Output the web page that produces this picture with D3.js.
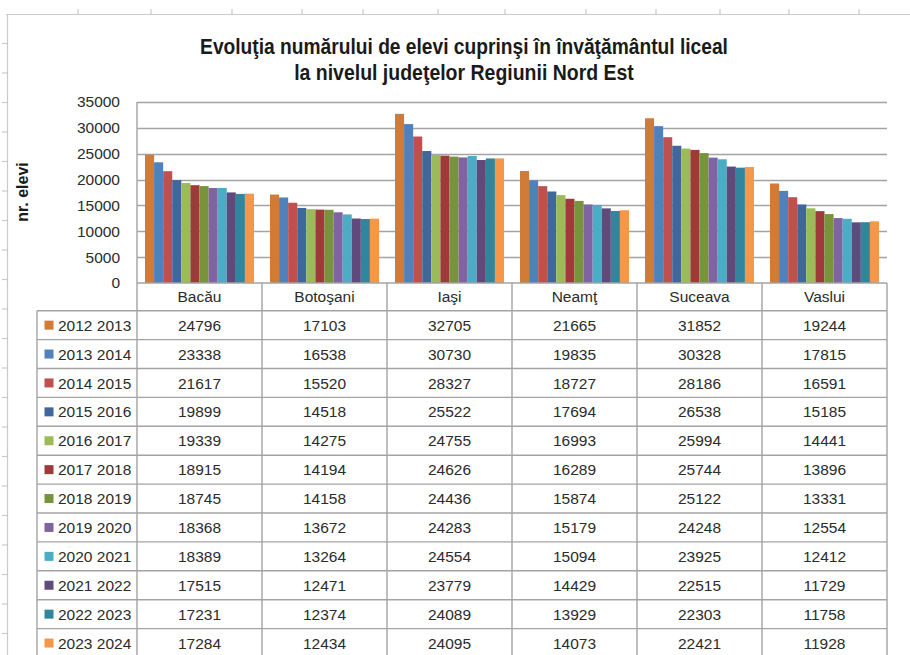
<!DOCTYPE html>
<html>
<head>
<meta charset="utf-8">
<script src="https://cdn.jsdelivr.net/npm/d3@7"></script>
<style>
  html, body { margin: 0; padding: 0; background: #fff; }
  svg { display: block; }
</style>
</head>
<body>
<svg id="chart" width="910" height="655"></svg>
<script>
// ---- data ----
const titleLines = ["Evoluţia numărului de elevi cuprinşi în învăţământul liceal",
                    "la nivelul judeţelor Regiunii Nord Est"];
const yAxisTitle = "nr. elevi";
const categories = ["Bacău", "Botoşani", "Iaşi", "Neamţ", "Suceava", "Vaslui"];
const seriesNames = ["2012 2013", "2013 2014", "2014 2015", "2015 2016", "2016 2017", "2017 2018",
                     "2018 2019", "2019 2020", "2020 2021", "2021 2022", "2022 2023", "2023 2024"];
const values2012 = [24796, 17103, 32705, 21665, 31852, 19244];
const values2013 = [23338, 16538, 30730, 19835, 30328, 17815];
const values2014 = [21617, 15520, 28327, 18727, 28186, 16591];
const values2015 = [19899, 14518, 25522, 17694, 26538, 15185];
const values2016 = [19339, 14275, 24755, 16993, 25994, 14441];
const values2017 = [18915, 14194, 24626, 16289, 25744, 13896];
const values2018 = [18745, 14158, 24436, 15874, 25122, 13331];
const values2019 = [18368, 13672, 24283, 15179, 24248, 12554];
const values2020 = [18389, 13264, 24554, 15094, 23925, 12412];
const values2021 = [17515, 12471, 23779, 14429, 22515, 11729];
const values2022 = [17231, 12374, 24089, 13929, 22303, 11758];
const values2023 = [17284, 12434, 24095, 14073, 22421, 11928];
const yTicks = [0, 5000, 10000, 15000, 20000, 25000, 30000, 35000];
const colors = ["#D07B37", "#4F81BD", "#C0504D", "#3F679B", "#9BBB59", "#9E3B3A",
                "#77933C", "#8064A2", "#4BACC6", "#604A7B", "#31859C", "#F79646"];

const seriesValues = [values2012, values2013, values2014, values2015, values2016, values2017,
                      values2018, values2019, values2020, values2021, values2022, values2023];

// ---- layout ----
const svg = d3.select("#chart");
const plotLeft = 137, plotRight = 887, plotTop = 102, plotBottom = 283;
const tableLeft = 37;
const headerBottom = 310.7, rowH = 28.9;
const gridColor = "#a3a3a3";
const textColor = "#2b2b2b";
const font = "'Liberation Sans', Arial, sans-serif";

const y = d3.scaleLinear().domain([0, 35000]).range([plotBottom, plotTop]);
const x0 = d3.scaleBand().domain(categories).range([plotLeft, plotRight]);
const x1 = d3.scaleBand().domain(seriesNames).range([0, x0.bandwidth()]).paddingInner(0).paddingOuter(0.88);

// sheet ruler decoration
const ruler = svg.append("g").attr("stroke", "#c9c9c9").attr("stroke-width", 1.2);
ruler.append("line").attr("x1", 6).attr("x2", 910).attr("y1", 14.5).attr("y2", 14.5);
ruler.append("line").attr("x1", 7.5).attr("x2", 7.5).attr("y1", 14).attr("y2", 655);
[78, 151, 232, 302, 363, 438, 505, 586, 656, 720, 789, 859].forEach(xx =>
  ruler.append("line").attr("x1", xx).attr("x2", xx).attr("y1", 9).attr("y2", 14.5));
d3.range(43.5, 655, 29.5).forEach(yy =>
  ruler.append("line").attr("x1", 2).attr("x2", 7.5).attr("y1", yy).attr("y2", yy));

// title (condensed look: tall bold glyphs squeezed to the reference width)
const titleCx = 464;
const titleTargets = [528, 340];
const titleBase = [54, 80];
titleLines.forEach((t, i) => {
  const g = svg.append("g");
  const txt = g.append("text")
    .attr("x", 0).attr("y", 0)
    .attr("text-anchor", "middle")
    .attr("font-family", font)
    .attr("font-weight", "bold")
    .attr("font-size", 22.5)
    .attr("fill", "#1a1a1a")
    .text(t);
  const w = txt.node().getComputedTextLength();
  const sx = w > 0 ? titleTargets[i] / w : 1;
  g.attr("transform", `translate(${titleCx},${titleBase[i]}) scale(${sx.toFixed(4)},1)`);
});

// gridlines
const grid = svg.append("g");
grid.selectAll("line").data(yTicks.filter(v => v > 0)).join("line")
  .attr("x1", plotLeft).attr("x2", plotRight)
  .attr("y1", d => Math.round(y(d)) + 0.5).attr("y2", d => Math.round(y(d)) + 0.5)
  .attr("stroke", gridColor).attr("stroke-width", 1.3);

// y axis
const yAxis = d3.axisLeft(y).tickValues(yTicks).tickSize(0).tickPadding(17).tickFormat(d3.format("d"));
const yg = svg.append("g").attr("transform", `translate(${plotLeft},0)`).call(yAxis);
yg.select(".domain").remove();
yg.selectAll("text").attr("font-family", font).attr("font-size", 15.5).attr("fill", textColor);

// y axis title
svg.append("text")
  .attr("transform", `translate(28,192) rotate(-90)`)
  .attr("text-anchor", "middle")
  .attr("font-family", font).attr("font-weight", "bold").attr("font-size", 16)
  .attr("fill", "#1a1a1a")
  .text(yAxisTitle);

// bars
const rows = [];
seriesNames.forEach((s, si) => categories.forEach((c, ci) =>
  rows.push({ series: s, si, cat: c, value: seriesValues[si][ci] })));
svg.append("g").selectAll("rect").data(rows).join("rect")
  .attr("x", d => x0(d.cat) + x1(d.series))
  .attr("width", x1.bandwidth())
  .attr("y", d => y(d.value))
  .attr("height", d => y(0) - y(d.value))
  .attr("fill", d => colors[d.si]);

// data table
const nRows = seriesNames.length;
const tableBottom = headerBottom + rowH * nRows;
const tg = svg.append("g").attr("stroke", gridColor).attr("stroke-width", 1.4).attr("fill", "none");
tg.append("line").attr("x1", plotLeft).attr("x2", plotRight).attr("y1", plotBottom).attr("y2", plotBottom);
d3.range(nRows + 1).forEach(i => {
  const yy = headerBottom + i * rowH;
  tg.append("line").attr("x1", tableLeft).attr("x2", plotRight).attr("y1", yy).attr("y2", yy);
});
tg.append("line").attr("x1", plotLeft).attr("x2", plotLeft).attr("y1", plotTop).attr("y2", tableBottom);
tg.append("line").attr("x1", tableLeft).attr("x2", tableLeft).attr("y1", headerBottom).attr("y2", tableBottom);
categories.forEach(c => {
  const xe = x0(c) + x0.bandwidth();
  tg.append("line").attr("x1", xe).attr("x2", xe).attr("y1", plotBottom).attr("y2", tableBottom);
});

// category header
svg.append("g").selectAll("text").data(categories).join("text")
  .attr("x", d => x0(d) + x0.bandwidth() / 2)
  .attr("y", (plotBottom + headerBottom) / 2)
  .attr("dy", "0.36em")
  .attr("text-anchor", "middle")
  .attr("font-family", font).attr("font-size", 15.5).attr("fill", textColor)
  .text(d => d);

// legend keys + labels
const lg = svg.append("g");
seriesNames.forEach((s, si) => {
  const cy = headerBottom + rowH * (si + 0.5);
  lg.append("rect").attr("x", 44.5).attr("y", cy - 4.5).attr("width", 9).attr("height", 9).attr("fill", colors[si]);
  lg.append("text").attr("x", 58).attr("y", cy).attr("dy", "0.36em")
    .attr("font-family", font).attr("font-size", 15.5).attr("fill", textColor).text(s);
});

// cell values
svg.append("g").selectAll("text").data(rows).join("text")
  .attr("x", d => x0(d.cat) + x0.bandwidth() / 2)
  .attr("y", d => headerBottom + rowH * (d.si + 0.5))
  .attr("dy", "0.36em")
  .attr("text-anchor", "middle")
  .attr("font-family", font).attr("font-size", 15.5).attr("fill", textColor)
  .text(d => d.value);
</script>
</body>
</html>
